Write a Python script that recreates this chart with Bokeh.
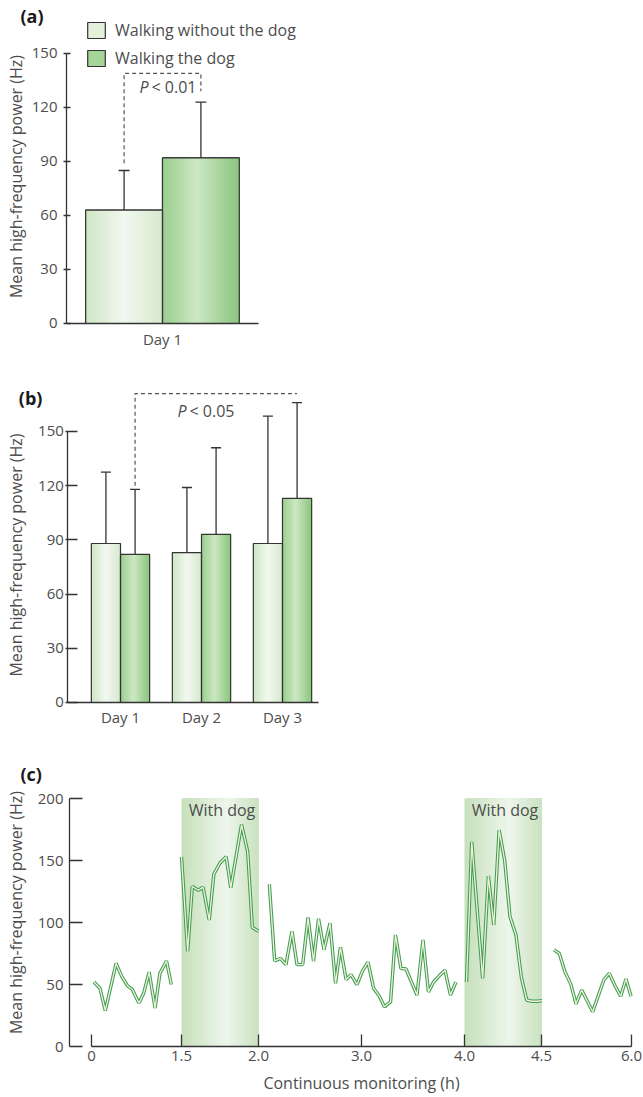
import numpy as np
from bokeh.plotting import figure
from bokeh.models import (ColumnDataSource, Whisker, TeeHead, Legend, LegendItem,
                          FixedTicker, Range1d)
from bokeh.layouts import column
from bokeh.embed import file_html
from bokeh.resources import INLINE
from bokeh.core.properties import value

FONT = "Open Sans"
TXT = "#4d4d4d"
AX = "#333333"
DASH = "#555555"

# ---------------- data ----------------
# Panel (a)
a_days = ["Day 1"]
a_without = [63]
a_without_lo = [40]
a_without_hi = [85]
a_with = [92]
a_with_lo = [61]
a_with_hi = [123]
a_bracket_top = 139
a_p_text = "< 0.01"
a_yticks = [0, 30, 60, 90, 120, 150]

# Panel (b)
b_days = ["Day 1", "Day 2", "Day 3"]
b_without = [88, 83, 88]
b_without_lo = [48, 46.5, 17]
b_without_hi = [127.5, 119, 158.5]
b_with = [82, 93, 113]
b_with_lo = [45.5, 45, 59.5]
b_with_hi = [118, 141, 166]
b_bracket_top = 171
b_p_text = "< 0.05"
b_yticks = [0, 30, 60, 90, 120, 150]

# Panel (c)  time in hours, value in Hz
c_tick_hours = [0, 1.5, 2.0, 3.0, 4.0, 4.5, 6.0]
c_tick_labels = ["0", "1.5", "2.0", "3.0", "4.0", "4.5", "6.0"]
c_yticks = [0, 50, 100, 150, 200]
c_dog_periods = [(1.5, 2.0), (4.0, 4.5)]
c_dog_label = "With dog"

seg1_t = [0.04, 0.14, 0.23, 0.41, 0.51, 0.60, 0.68, 0.79, 0.87, 0.96, 1.06, 1.14, 1.25, 1.33]
seg1_v = [52, 47, 29, 67, 56, 49, 46, 35, 43, 60, 31, 59, 69, 50]
seg2_t = [1.50, 1.54, 1.57, 1.61, 1.64, 1.68, 1.71, 1.75, 1.79, 1.82, 1.89, 1.93, 1.96, 2.00]
seg2_v = [153, 77, 129, 126, 128.5, 102, 139, 148, 153, 128, 179, 157, 96, 93]
seg3_t = [2.105, 2.157, 2.212, 2.267, 2.325, 2.374, 2.429, 2.481, 2.534, 2.583, 2.636, 2.694,
          2.748, 2.796, 2.850, 2.898, 2.956, 3.010, 3.063, 3.117, 3.170, 3.223, 3.282, 3.330,
          3.383, 3.432, 3.485, 3.539, 3.597, 3.650, 3.699, 3.755, 3.810, 3.864, 3.917]
seg3_v = [131, 69, 71, 66, 93, 66, 66, 104, 69, 103, 78, 99.5,
          51, 80, 54, 58, 50, 61, 68, 47, 41, 32, 36, 90,
          63, 62.5, 52, 41.5, 86, 44, 52, 57, 61.5, 41.5, 52]
seg4_t = [4.013, 4.047, 4.118, 4.155, 4.190, 4.225, 4.261, 4.295, 4.334, 4.369, 4.404, 4.438, 4.474, 4.510]
seg4_v = [52, 165, 55, 137.5, 98, 174.5, 150, 105, 90, 56, 37.5, 36.5, 36.5, 37]
seg5_t = [4.708, 4.797, 4.892, 4.987, 5.075, 5.170, 5.353, 5.447, 5.542, 5.630, 5.725, 5.820, 5.908, 5.992]
seg5_v = [78, 75, 60, 50.5, 34.5, 45.5, 28, 41, 54, 59, 49, 40.5, 54.5, 40.5]

# ---------------- styling helpers ----------------
WITHOUT_GRAD = ("#cfe6c6", "#f2f8f0", "#d5e9cd", 0.5)
WITH_GRAD = ("#9bcf8f", "#cde7c4", "#89c57d", 0.45)
SHADE_GRAD = ("#c6e0bb", "#eef6ec", "#c9e2bf", 0.58)
LEG_WITHOUT = "#e2f0dc"
LEG_WITH = "#a6d59a"
LINE_OUT = "#3f9d5a"
LINE_IN = "#f3f3d2"
Y_LABEL = "Mean high-frequency power (Hz)"
W = 643


def hex2rgb(h):
    return np.array([int(h[i:i + 2], 16) for i in (1, 3, 5)], float)


def grad_colors(spec, n):
    L, M, R = (hex2rgb(c) for c in spec[:3])
    mid = spec[3]
    out = []
    for i in range(n):
        f = (i + 0.5) / n
        if f <= mid:
            c = L + (M - L) * (f / mid)
        else:
            c = M + (R - M) * ((f - mid) / (1 - mid))
        out.append("#%02x%02x%02x" % tuple(int(round(v)) for v in c))
    return out


def gradient_rects(p, x0s, x1s, tops, spec, n=30, bottom=0):
    cols = grad_colors(spec, n)
    L, R, T, B, F = [], [], [], [], []
    for x0, x1, t in zip(x0s, x1s, tops):
        for i in range(n):
            L.append(x0 + (x1 - x0) * i / n)
            R.append(x1)
            T.append(t)
            B.append(bottom)
            F.append(cols[i])
    p.quad(left=L, right=R, top=T, bottom=B, fill_color=F, line_color=None)


def make_fig(height, xr, yr):
    p = figure(width=W, height=height, x_range=xr, y_range=yr, output_backend="svg",
               toolbar_location=None, title=None, min_border=0, min_border_top=0,
               min_border_bottom=0, min_border_left=0, min_border_right=0)
    p.outline_line_color = None
    p.xgrid.visible = False
    p.ygrid.visible = False
    p.background_fill_color = "white"
    p.border_fill_color = "white"
    return p


def cfg_axis(ax, loc, bounds, tick_in, tick_out, standoff, font_size="15px"):
    ax.fixed_location = loc
    ax.bounds = bounds
    ax.axis_line_color = AX
    ax.axis_line_width = 1.3
    ax.major_tick_line_color = AX
    ax.major_tick_line_width = 1.3
    ax.major_tick_in = tick_in
    ax.major_tick_out = tick_out
    ax.minor_tick_line_color = None
    ax.major_label_text_font = FONT
    ax.major_label_text_font_size = font_size
    ax.major_label_text_color = TXT
    ax.major_label_standoff = standoff


def label_text(p, x, y, txt, dx, dy, angle=0.0, size="16px", bold=False, align="center", color=TXT):
    p.text(x=[x], y=[y], text=[txt], text_font=value(FONT), text_font_size=size,
           text_font_style="bold" if bold else "normal", text_color=color,
           text_align=align, text_baseline="middle", x_offset=dx, y_offset=dy, angle=angle)


def add_whiskers(p, xs, lo, hi, head=11):
    src = ColumnDataSource(dict(x=xs, lower=lo, upper=hi))
    w = Whisker(source=src, base="x", lower="lower", upper="upper", dimension="height",
                line_color=AX, line_width=1.3,
                upper_head=TeeHead(size=head, line_color=AX, line_width=1.3),
                lower_head=TeeHead(size=head, line_color=AX, line_width=1.3))
    p.add_layout(w)


def p_text(p, x, y, txt, dx_p, dx_t, dy):
    p.text(x=[x], y=[y], text=["P"], text_font=value(FONT), text_font_style="italic",
           text_font_size="16px", text_color=TXT, text_align="right", text_baseline="middle",
           x_offset=dx_p, y_offset=dy)
    p.text(x=[x], y=[y], text=[txt], text_font=value(FONT), text_font_size="16px",
           text_color=TXT, text_align="left", text_baseline="middle", x_offset=dx_t, y_offset=dy)


# ---------------- panel (a) ----------------
bw_a = 0.4
pa = make_fig(350, Range1d(0.15625, 3.5052), Range1d(-15, 179.44))
xa = np.arange(1, len(a_days) + 1, dtype=float)
xa_wo = xa - bw_a / 2
xa_w = xa + bw_a / 2
r_leg1 = pa.quad(left=xa_wo - bw_a / 2, right=xa_wo + bw_a / 2, top=a_without, bottom=0,
                 fill_color=LEG_WITHOUT, line_color=AX, line_width=1.2)
r_leg2 = pa.quad(left=xa_w - bw_a / 2, right=xa_w + bw_a / 2, top=a_with, bottom=0,
                 fill_color=LEG_WITH, line_color=AX, line_width=1.2)
gradient_rects(pa, xa_wo - bw_a / 2, xa_wo + bw_a / 2, a_without, WITHOUT_GRAD)
gradient_rects(pa, xa_w - bw_a / 2, xa_w + bw_a / 2, a_with, WITH_GRAD)
pa.quad(left=np.r_[xa_wo, xa_w] - bw_a / 2, right=np.r_[xa_wo, xa_w] + bw_a / 2,
        top=a_without + a_with, bottom=0, fill_color=None, line_color=AX, line_width=1.2)
add_whiskers(pa, list(xa_wo) + list(xa_w), a_without_lo + a_with_lo, a_without_hi + a_with_hi)
pa.line(x=[xa_wo[0], xa_wo[0], xa_w[0], xa_w[0]],
        y=[a_without_hi[0] + 4, a_bracket_top, a_bracket_top, a_with_hi[0] + 6],
        line_color=DASH, line_width=1.2, line_dash="4 3")
p_text(pa, xa[0], a_bracket_top, a_p_text, -14, -11, 14)

legend = Legend(items=[LegendItem(label="Walking without the dog", renderers=[r_leg1]),
                       LegendItem(label="Walking the dog", renderers=[r_leg2])],
                location=(85, 281), orientation="vertical", glyph_width=22, glyph_height=20,
                label_height=22, label_standoff=8, spacing=6, padding=0, margin=0,
                border_line_color=None, background_fill_alpha=0,
                label_text_font=FONT, label_text_font_size="16px", label_text_color=TXT)
pa.add_layout(legend)

pa.yaxis.ticker = FixedTicker(ticks=a_yticks)
cfg_axis(pa.yaxis, 0.5, (0, 150), 4, 3, 6)
pa.xaxis.ticker = FixedTicker(ticks=list(xa))
pa.xaxis.major_label_overrides = {int(x): d for x, d in zip(xa, a_days)}
cfg_axis(pa.xaxis, 0, (0.5, 1.5), 0, 0, 6)
label_text(pa, 0.5, 75, Y_LABEL, -51, -12, angle=np.pi / 2)
label_text(pa, 0.5, 150, "(a)", -46, -37, size="18px", bold=True, align="left", color="#1a1a1a")

# ---------------- panel (b) ----------------
bw_b = 0.36
pb = make_fig(380, Range1d(-0.4815, 7.4568), Range1d(-15.5, 194.83))
xb = np.arange(1, len(b_days) + 1, dtype=float)
xb_wo = xb - bw_b / 2
xb_w = xb + bw_b / 2
gradient_rects(pb, xb_wo - bw_b / 2, xb_wo + bw_b / 2, b_without, WITHOUT_GRAD)
gradient_rects(pb, xb_w - bw_b / 2, xb_w + bw_b / 2, b_with, WITH_GRAD)
pb.quad(left=np.r_[xb_wo, xb_w] - bw_b / 2, right=np.r_[xb_wo, xb_w] + bw_b / 2,
        top=b_without + b_with, bottom=0, fill_color=None, line_color=AX, line_width=1.2)
add_whiskers(pb, list(xb_wo) + list(xb_w), b_without_lo + b_with_lo, b_without_hi + b_with_hi, head=10)
pb.line(x=[xb_w[0], xb_w[0], xb_w[2]], y=[b_with_hi[0] + 2, b_bracket_top, b_bracket_top],
        line_color=DASH, line_width=1.2, line_dash="4 3")
p_text(pb, xb[1], b_bracket_top, b_p_text, -15, -12, 17)

pb.yaxis.ticker = FixedTicker(ticks=b_yticks)
cfg_axis(pb.yaxis, 0.35, (0, 150), 10, 2, 2)
pb.xaxis.ticker = FixedTicker(ticks=list(xb))
pb.xaxis.major_label_overrides = {int(x): d for x, d in zip(xb, b_days)}
cfg_axis(pb.xaxis, 0, (0.35, 3.44), 0, 0, 5)
label_text(pb, 0.35, 75, Y_LABEL, -52, -12, angle=np.pi / 2)
label_text(pb, 0.35, 150, "(b)", -49, -33, size="18px", bold=True, align="left", color="#1a1a1a")

# ---------------- panel (c) ----------------
# broken time axis: display position (px-like units) of each labelled hour
brk_pos = [0, 90, 167, 270, 373, 450, 540]


def to_disp(t):
    return np.interp(np.asarray(t, float), c_tick_hours, brk_pos)


pc = make_fig(366, Range1d(-91, 552), Range1d(-40.32, 254.84))
sh_x0 = [float(to_disp(a)) for a, b in c_dog_periods]
sh_x1 = [float(to_disp(b)) for a, b in c_dog_periods]
gradient_rects(pc, sh_x0, sh_x1, [c_yticks[-1]] * len(c_dog_periods), SHADE_GRAD, n=40)
pc.text(x=[(a + b) / 2 for a, b in zip(sh_x0, sh_x1)], y=[c_yticks[-1]] * len(c_dog_periods),
        text=[c_dog_label] * len(c_dog_periods), text_font=value(FONT), text_font_size="16px",
        text_color=TXT, text_align="center", text_baseline="middle", x_offset=2, y_offset=11)

for t, v in [(seg1_t, seg1_v), (seg2_t, seg2_v), (seg3_t, seg3_v), (seg4_t, seg4_v), (seg5_t, seg5_v)]:
    xd = to_disp(t)
    pc.line(x=xd, y=v, line_color=LINE_OUT, line_width=3.4)
    pc.line(x=xd, y=v, line_color=LINE_IN, line_width=1.3)

pc.yaxis.ticker = FixedTicker(ticks=c_yticks)
cfg_axis(pc.yaxis, -22, (0, 200), 13, 0, 6)
pc.xaxis.ticker = FixedTicker(ticks=brk_pos)
pc.xaxis.major_label_overrides = {pos: lab for pos, lab in zip(brk_pos, c_tick_labels)}
cfg_axis(pc.xaxis, 0, (0, brk_pos[-1]), 12, 0, 4)
label_text(pc, -22, 100, Y_LABEL, -54, -10, angle=np.pi / 2)
label_text(pc, brk_pos[-1] / 2, 0, "Continuous monitoring (h)", 0, 36)
label_text(pc, -22, 200, "(c)", -49, -25, size="18px", bold=True, align="left", color="#1a1a1a")

layout = column(pa, pb, pc, spacing=0)
open("out.html", "w").write(file_html(layout, INLINE))
